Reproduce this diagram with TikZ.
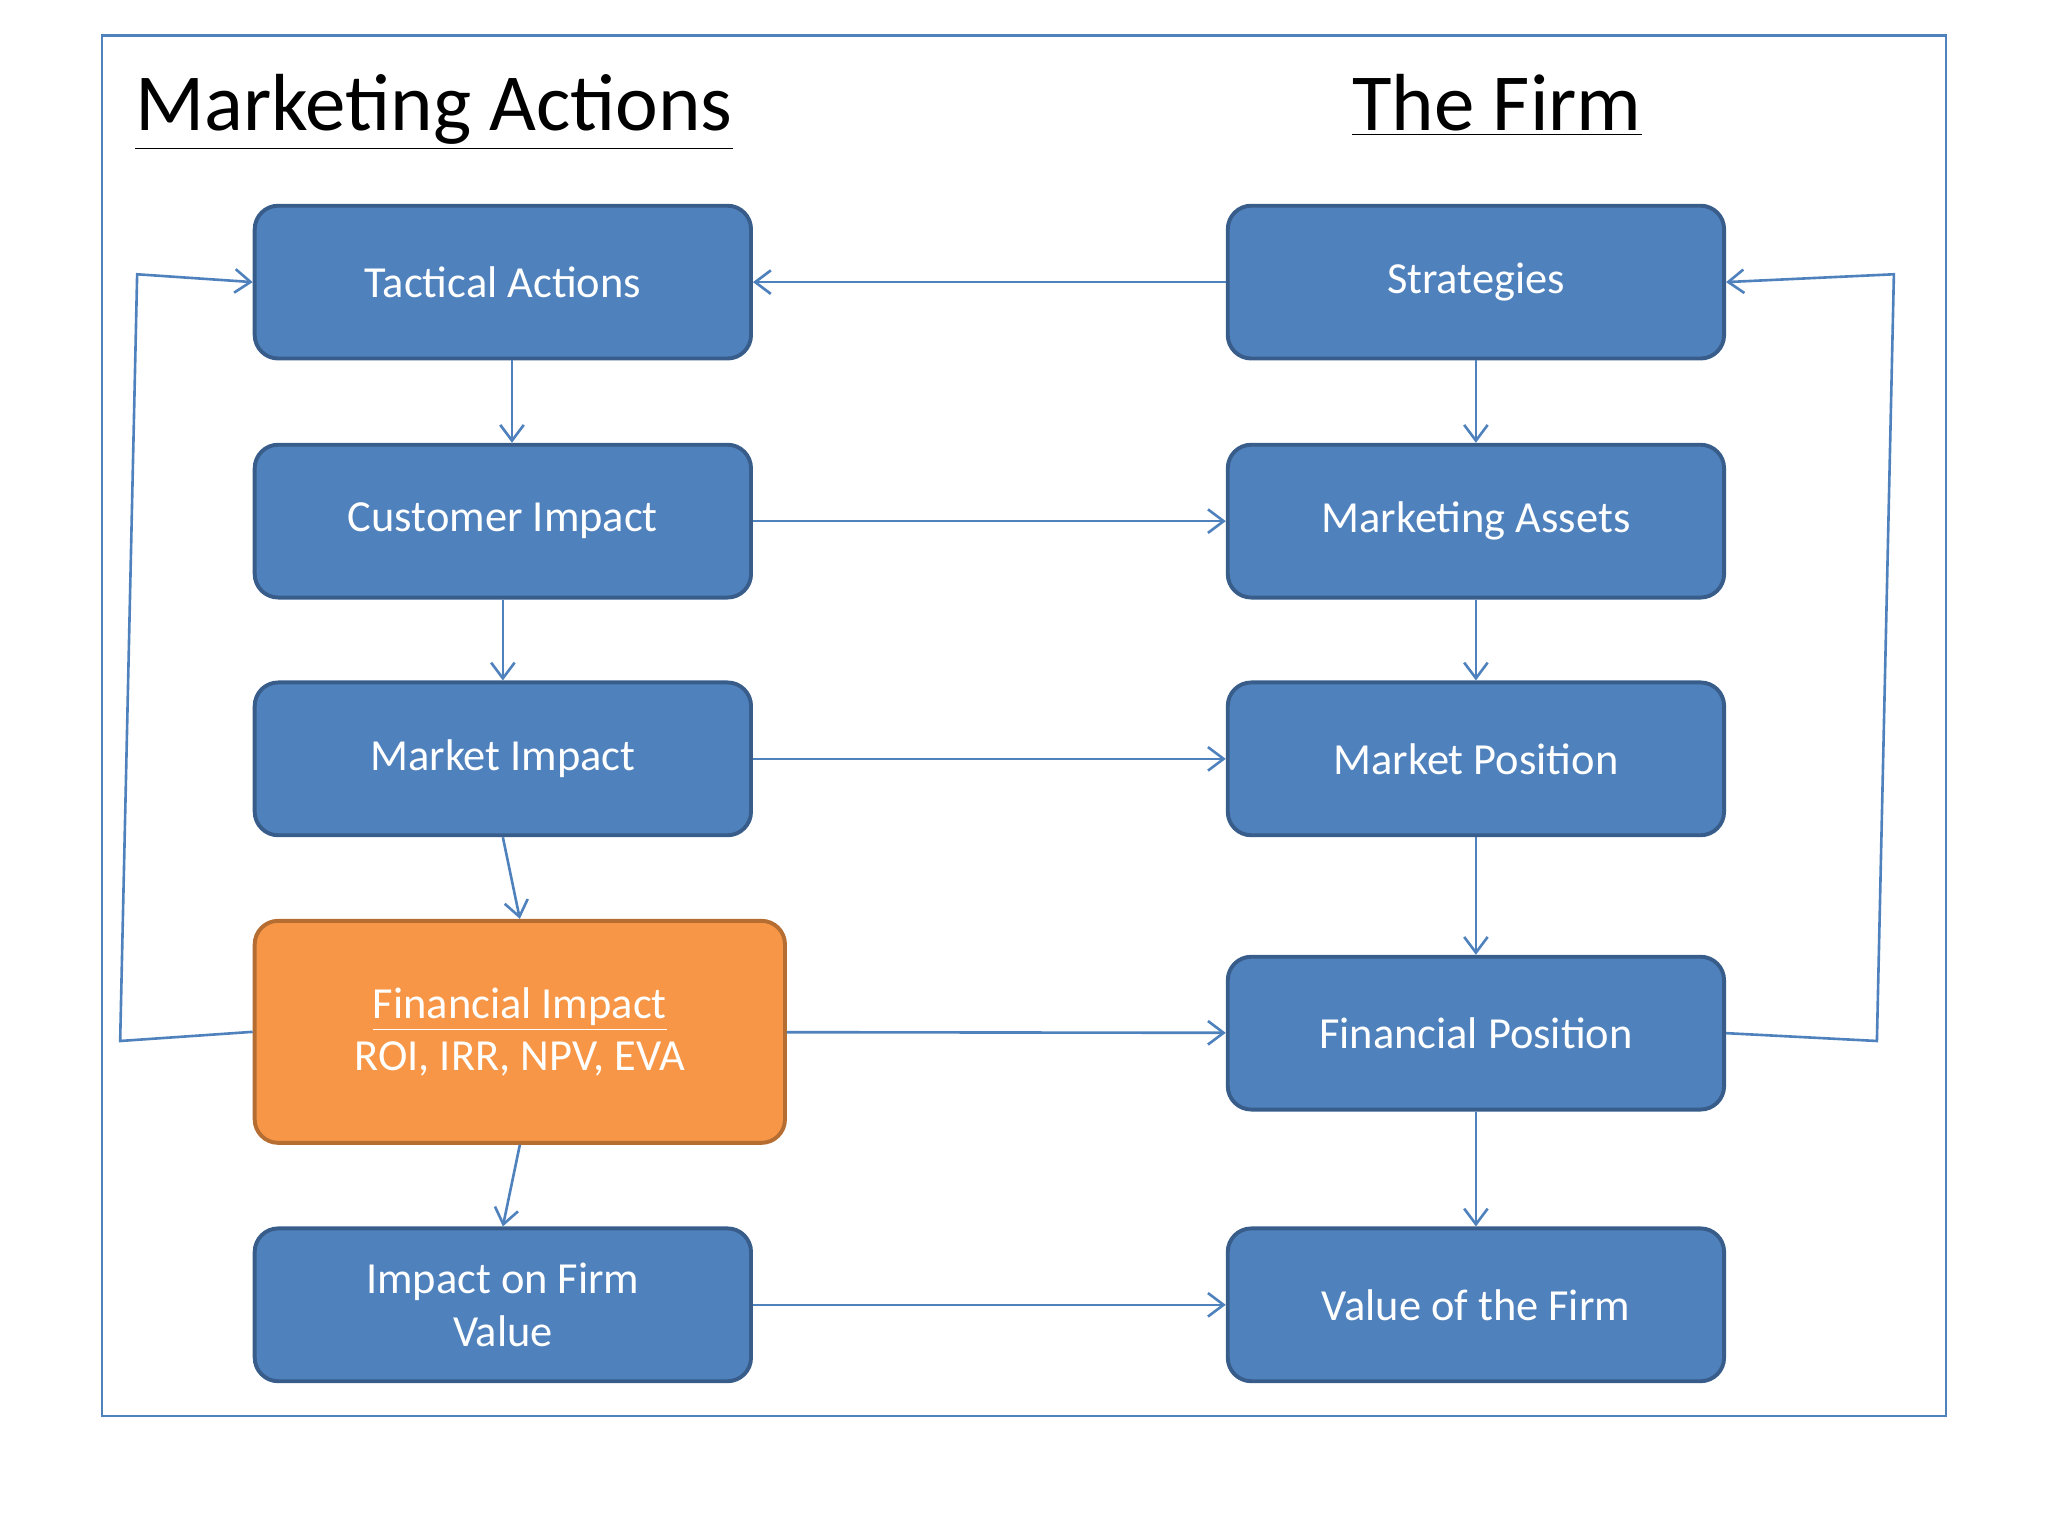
\documentclass[tikz,border=0pt]{standalone}
\usepackage{fontspec}
\setmainfont{Carlito}
\usetikzlibrary{arrows.meta}
\definecolor{bfill}{HTML}{4F81BD}
\definecolor{bdraw}{HTML}{385D8A}
\definecolor{ofill}{HTML}{F79646}
\definecolor{odraw}{HTML}{B66D31}
\begin{document}
\begin{tikzpicture}[x=0.5pt,y=-0.5pt,
  bbox/.style={draw=bdraw,fill=bfill,line width=1.5pt,rounded corners=9pt,minimum width=190pt,minimum height=58.5pt,text=white,font=\fontsize{17}{20}\selectfont,align=center},
  obox/.style={bbox,draw=odraw,fill=ofill,minimum width=203pt,minimum height=85pt},
  arr/.style={draw=bfill,line width=1pt,-{Straight Barb[length=6pt,width=9pt]}},
  ttl/.style={font=\fontsize{31}{36}\selectfont,anchor=base west,inner sep=0pt}]
\useasboundingbox (0,0) rectangle (1568,1176);
\draw[bfill,line width=1pt] (78,27) rectangle (1490,1084);
\node[ttl] (t1) at (103,100) {\underline{Marketing Actions}};
\node[ttl] (t2) at (1035,100) {\underline{The Firm}};
\node[bbox] (ta) at (385,216) {Tactical Actions};
\node[bbox] (ci) at (385,399) {Customer Impact};
\node[bbox] (mi) at (385,581) {Market Impact};
\node[obox] (fi) at (398,790) {\underline{Financial Impact}\\ROI, IRR, NPV, EVA};
\node[bbox] (iv) at (385,999) {Impact on Firm\\Value};
\node[bbox] (st) at (1130,216) {Strategies};
\node[bbox] (ma) at (1130,399) {Marketing Assets};
\node[bbox] (mp) at (1130,581) {Market Position};
\node[bbox] (fp) at (1130,791) {Financial Position};
\node[bbox] (vf) at (1130,999) {Value of the Firm};
\draw[arr] (ta.south -| 392,0) -- (ci.north -| 392,0);
\draw[arr] (ci) -- (mi);
\draw[arr] (mi.south) -- (fi.north);
\draw[arr] (fi.south) -- (iv.north);
\draw[arr] (st) -- (ma);
\draw[arr] (ma) -- (mp);
\draw[arr] (mp) -- (fp);
\draw[arr] (fp) -- (vf);
\draw[arr] (st) -- (ta);
\draw[arr] (ci) -- (ma);
\draw[arr] (mi) -- (mp);
\draw[arr] (fi) -- (fp);
\draw[arr] (iv) -- (vf);
\coordinate (l1) at (92,797); \coordinate (l2) at (105,210);
\coordinate (r1) at (1437,797); \coordinate (r2) at (1450,210);
\draw[arr] (fi.west) -- (l1) -- (l2) -- (ta.west);
\draw[arr] (fp.east) -- (r1) -- (r2) -- (st.east);
\end{tikzpicture}
\end{document}
